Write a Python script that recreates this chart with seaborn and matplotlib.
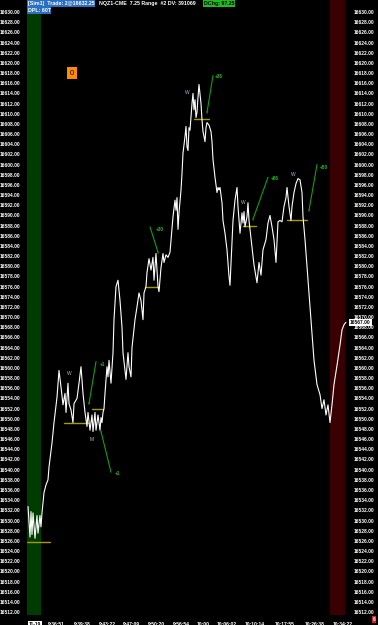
import numpy as np
import pandas as pd
import matplotlib
matplotlib.use("Agg")
import matplotlib.pyplot as plt
import seaborn as sns

# ---------------- data ----------------
bars = [1, 3, 4, 5, 6, 8, 10, 11, 13, 14,
        15, 17, 19, 21, 22, 25, 27, 30, 32, 34,
        36, 38, 39, 41, 42, 44, 46, 47, 50, 52,
        54, 56, 58, 60, 61, 63, 65, 66, 68, 69,
        71, 73, 74, 75, 76, 77, 78, 80, 81, 82,
        84, 86, 87, 89, 91, 93, 95, 96, 99, 101,
        102, 104, 105, 108, 110, 112, 114, 116, 117, 119,
        120, 122, 124, 126, 127, 129, 131, 132, 134, 136,
        137, 139, 141, 143, 145, 146, 148, 149, 150, 151,
        152, 154, 155, 156, 158, 159, 160, 161, 162, 163,
        165, 166, 167, 168, 169, 170, 171, 172, 174, 175,
        176, 178, 179, 180, 182, 184, 185, 186, 188, 190,
        191, 192, 193, 195, 196, 198, 200, 202, 203, 206,
        208, 210, 211, 213, 215, 216, 217, 218, 220, 221,
        222, 224, 227, 230, 232, 234, 236, 239, 241, 243,
        245, 247, 249, 251, 253, 255, 257, 259, 260, 262,
        264, 265, 267, 269, 271, 273, 275, 276, 278, 281,
        284, 287, 290, 293, 295, 297, 299, 301, 303, 305,
        307, 310, 313, 315, 317, 319]
prices = [16532.75, 16526.75, 16531.75, 16527.25, 16531.5, 16526.5, 16531, 16527.5, 16531, 16528.75,
          16531.5, 16535.5, 16537, 16538, 16540.5, 16545.25, 16549.25, 16554.25, 16559.5, 16556.25,
          16552.75, 16555, 16551.25, 16557, 16553, 16551.75, 16549.25, 16553, 16554, 16557,
          16560.25, 16555, 16551.25, 16548.5, 16551.25, 16547.75, 16550.75, 16547.5, 16551.25, 16547.75,
          16550.75, 16547.75, 16550.25, 16549.25, 16551.25, 16552, 16555, 16560.25, 16558.25, 16561.5,
          16557, 16563, 16569.5, 16576, 16577.25, 16573.25, 16568, 16563, 16557.75, 16563,
          16560.25, 16558.25, 16564, 16569.5, 16572, 16574.75, 16573.25, 16569.5, 16574.75, 16576,
          16578.75, 16581.5, 16579.25, 16581.75, 16577.25, 16582.5, 16576, 16575, 16579.75, 16582.5,
          16580.75, 16582.25, 16581.75, 16582.75, 16587.25, 16589.75, 16593, 16591, 16593.5, 16587.25,
          16590.5, 16595, 16598.25, 16602.25, 16605.5, 16607.5, 16603.5, 16602.75, 16607.25, 16606.75,
          16612, 16614, 16610.75, 16612.75, 16609.25, 16610.25, 16613.25, 16615.75, 16612, 16608.75,
          16606.5, 16604.5, 16607.25, 16608.25, 16607.75, 16606.5, 16604.5, 16601, 16597.5, 16594.5,
          16595.5, 16595, 16595.5, 16592.5, 16589, 16586.5, 16583.25, 16578, 16576.25, 16589,
          16593, 16595.5, 16591.75, 16586.5, 16590.5, 16588.5, 16590.75, 16587.75, 16589.75, 16592.5,
          16589, 16585.5, 16580.25, 16576.75, 16580.75, 16578.25, 16583.25, 16585.25, 16588.5, 16590,
          16587.75, 16585.25, 16580.75, 16588.75, 16589, 16588.75, 16591.75, 16593.5, 16595.5, 16591.75,
          16589, 16591.75, 16594.5, 16596.25, 16597.25, 16597, 16594.5, 16589.75, 16585.25, 16577.25,
          16569.5, 16561.5, 16556.75, 16554.75, 16552, 16553.75, 16550.75, 16552.75, 16549.25, 16552.75,
          16556.75, 16560.5, 16564.5, 16567.5, 16568.5, 16569]

time_tick_bars = [8, 29, 55, 80, 104, 129, 154, 176, 200, 228, 258, 288, 316]
time_tick_labels = ["11-19", "9:36:51", "9:39:38", "9:43:22", "9:47:09", "9:50:20",
                    "9:56:54", "10:00", "10:06:02", "10:10:14", "10:17:55", "10:26:38", "10:34:22"]

price_ticks = list(np.arange(16512, 16631, 2))

# yellow levels: start bar, end bar, price
level_start = [0, 37, 65, 118, 167, 216, 260]
level_end = [23, 61, 76, 132, 182, 229, 280]
level_price = [16525.75, 16549.25, 16552, 16576, 16609, 16588, 16589]

# green target arrows: start bar, start price, end bar, end price, label
sig_x0 = [180, 226, 282, 131, 62, 74]
sig_y0 = [16610.25, 16589.25, 16591, 16582.75, 16553.0, 16547.5]
sig_x1 = [186, 241, 290, 123, 69, 84]
sig_y1 = [16617.5, 16597.5, 16600, 16587.75, 16561.25, 16539.5]
sig_text = ["+36", "+86", "+50", "+30", "+1", "+1"]
sig_tx = [188, 244, 293, 129, 73, 88]
sig_ty = [16617.25, 16597.25, 16599.5, 16587.25, 16560.75, 16539.25]

# pattern markers
pat_x = [42, 65, 160, 216, 266]
pat_y = [16559.0, 16546.0, 16614.25, 16592.5, 16598.0]
pat_text = ["W", "M", "W", "W", "W"]

header_1 = "[Sim1]  Trade: 2@16632.25"
header_2 = "NQZ1-CME  7.25 Range  #2 DV: 391069"
header_3 = "DChg: 97.25"
header_4 = "DPL: 60T"
last_label = "16567.00"

# ---------------- style ----------------
sns.set_style("dark")
plt.rcParams["font.family"] = ["Liberation Sans", "DejaVu Sans"]
FS = 3.8
FSY = 3.5
W, H = 378, 625
fig = plt.figure(figsize=(W / 100, H / 100), dpi=100, facecolor="black")
ax = fig.add_axes([27 / W, 10 / H, 320 / W, 615 / H], facecolor="black")

df = pd.DataFrame({"bar": bars, "price": prices})

ax.axvspan(0, 14, color="#003c00", zorder=0, lw=0)
ax.axvspan(303, 318, color="#380000", zorder=0, lw=0)

for s, e, p in zip(level_start, level_end, level_price):
    ax.plot([s, e], [p, p], color="#a89a00", lw=1.0, zorder=2)

sns.lineplot(data=df, x="bar", y="price", color="white", lw=0.8, ax=ax,
             sort=False, estimator=None, zorder=3)

for x0, y0, x1, y1, t, tx, ty in zip(sig_x0, sig_y0, sig_x1, sig_y1, sig_text, sig_tx, sig_ty):
    ax.plot([x0, x1], [y0, y1], color="#10a010", lw=0.8, zorder=4)
    ax.text(x0, y0, "v", color="#10a010", fontsize=3.3, ha="center", va="center", zorder=4)
    ax.text(tx, ty, t, color="#20c020", fontsize=3.4, ha="left", va="center", zorder=4,
            fontweight="bold")

for x, y, t in zip(pat_x, pat_y, pat_text):
    ax.text(x, y, t, color="#b8b8c8", fontsize=3.5, ha="center", va="center", zorder=4)

ax.text(45, 16618, "0", color="black", fontsize=5.5, ha="center", va="center", zorder=5,
        bbox=dict(boxstyle="square,pad=0.35", fc="#ff8c00", ec="none"))

ax.set_xlim(0, 320)
ax.set_ylim(16511.42, 16632.36)
ax.set_yticks(price_ticks)
ax.set_yticklabels([f"{v:.2f}" for v in price_ticks])
ax.set_xticks(time_tick_bars)
ax.set_xticklabels(time_tick_labels)
ax.tick_params(axis="y", left=False, right=False, labelleft=True, labelright=True,
               labelsize=FSY, labelcolor="white", pad=1.2)
ax.tick_params(axis="x", bottom=False, labelsize=3.6, labelcolor="white", pad=1.2)
for lab in ax.get_yticklabels() + ax.get_xticklabels():
    lab.set_fontweight("bold")
first = ax.get_xticklabels()[0]
first.set_color("black")
first.set_bbox(dict(boxstyle="square,pad=0.15", fc="white", ec="none"))
for sp in ax.spines.values():
    sp.set_visible(False)
ax.grid(False)
ax.set_xlabel("")
ax.set_ylabel("")

# last price box on right axis
ax.text(1.0 + 3 / 320, prices[-1], last_label, transform=ax.get_yaxis_transform(),
        color="black", fontsize=FSY, fontweight="bold", ha="left", va="center", zorder=6,
        clip_on=False, bbox=dict(boxstyle="square,pad=0.2", fc="white", ec="none"))

# header
fig.text(27.5 / W, 1 - 0.8 / H, header_1, color="white", fontsize=FS, ha="left", va="top",
         fontweight="bold", bbox=dict(boxstyle="square,pad=0.15", fc="#2a6fc0", ec="none"))
fig.text(99 / W, 1 - 0.8 / H, header_2, color="white", fontsize=FS, ha="left", va="top",
         fontweight="bold")
fig.text(204 / W, 1 - 0.8 / H, header_3, color="black", fontsize=FS, ha="left", va="top",
         fontweight="bold", bbox=dict(boxstyle="square,pad=0.15", fc="#22bb22", ec="none"))
fig.text(27.5 / W, 1 - 8 / H, header_4, color="white", fontsize=FS, ha="left", va="top",
         fontweight="bold", bbox=dict(boxstyle="square,pad=0.15", fc="#2a6fc0", ec="none"))

fig.text(374 / W, 1 - 619.5 / H, "6", color="white", fontsize=FSY, ha="center", va="center",
         fontweight="bold", bbox=dict(boxstyle="square,pad=0.2", fc="#e02020", ec="none"))

fig.savefig("out.png", dpi=100, facecolor="black")
